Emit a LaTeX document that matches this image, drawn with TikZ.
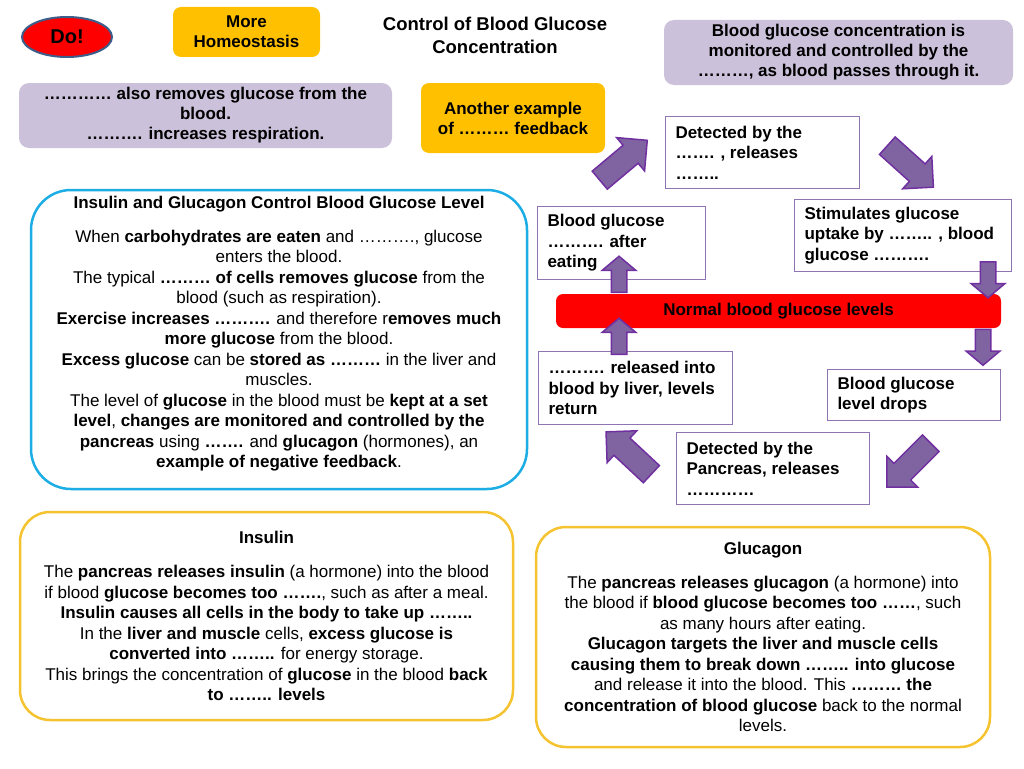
\documentclass[tikz,border=0pt]{standalone}
\usepackage{fontspec}
\setmainfont{Liberation Sans}
\usetikzlibrary{shapes.geometric, shapes.arrows}

\definecolor{lilac}{HTML}{CCC1DA}
\definecolor{tabgold}{HTML}{FFC000}
\definecolor{stepline}{HTML}{8E74B2}
\definecolor{arrowfill}{HTML}{8064A2}
\definecolor{arrowline}{HTML}{7030A0}
\definecolor{infoblue}{HTML}{1CADE4}
\definecolor{infogold}{HTML}{F5C330}
\definecolor{dorim}{HTML}{3C5E8A}

\tikzset{
  boldtext/.style={font=\bfseries\fontsize{17}{20}\selectfont},
  lilacbox/.style={boldtext, fill=lilac, rounded corners=10pt, align=center},
  goldtab/.style={boldtext, fill=tabgold, rounded corners=8pt, align=center},
  stepbox/.style={font=\bfseries\fontsize{17}{20.5}\selectfont, draw=stepline, line width=1pt, fill=white, align=flush left, anchor=north west, inner xsep=10pt},
  infobox/.style={font=\fontsize{17}{20.5}\selectfont, fill=white, line width=2.5pt, align=center},
  blockarrow/.style={single arrow, fill=arrowfill, draw=arrowline, line width=1.5pt},
  shortarrow/.style={blockarrow, inner sep=7pt, single arrow head extend=9pt, single arrow tip angle=100, minimum height=36pt},
  bigarrow/.style={blockarrow, inner sep=11pt, single arrow head extend=10pt, single arrow tip angle=90, minimum height=62pt}
}

\begin{document}
\begin{tikzpicture}[x=1pt, y=-1pt]
\useasboundingbox (0,0) rectangle (1024,768);

\node[ellipse, fill=red, draw=dorim, line width=2pt, minimum width=90pt, minimum height=40pt, font=\bfseries\fontsize{20}{24}\selectfont] (do) at (67,37) {Do!};
\node[goldtab, minimum width=147pt, minimum height=50pt] (more homeostasis) at (246.5,32) {More\\Homeostasis};
\node[font=\bfseries\fontsize{18.5}{23}\selectfont, align=center] (title) at (495,35) {Control of Blood Glucose\\Concentration};

\node[lilacbox, minimum width=349pt, minimum height=65pt] (monitored) at (838.5,52.5) {Blood glucose concentration is\\monitored and controlled by the\\………, as blood passes through it.};
\node[lilacbox, minimum width=373pt, minimum height=65pt] (also removes) at (205.5,115.5) {………… also removes glucose from the\\blood.\\………. increases respiration.};
\node[goldtab, minimum width=184pt, minimum height=70pt] (another example) at (513,118) {Another example\\of ……… feedback};

% feedback loop
\node[stepbox, text width=174pt, minimum height=72pt] (detected top) at (665,116) {Detected by the\\……. , releases\\……..};
\node[stepbox, text width=197pt, minimum height=72pt] (stimulates) at (794,199) {Stimulates glucose\\uptake by …….. , blood\\glucose ……….};
\node[stepbox, text width=148pt, minimum height=73pt] (after eating) at (537,206) {Blood glucose\\………. after\\eating};
\node[stepbox, text width=174pt, minimum height=73pt] (released) at (538,351) {………. released into\\blood by liver, levels\\return};
\node[stepbox, text width=153pt, minimum height=51pt] (drops) at (827,369) {Blood glucose\\level drops};
\node[stepbox, text width=173pt, minimum height=72pt] (detected low) at (676,432) {Detected by the\\Pancreas, releases\\…………};

\node[boldtext, fill=red, rounded corners=7pt, minimum width=445pt, minimum height=34pt] (normal) at (778.5,311) {Normal blood glucose levels};

\node[shortarrow, rotate=90] (rise arrow) at (619,277.5) {};
\node[shortarrow, rotate=90] (return arrow) at (619,339.5) {};
\node[shortarrow, rotate=-90] (uptake arrow) at (988,276.5) {};
\node[shortarrow, rotate=-90] (drop arrow) at (983,344) {};
\node[bigarrow, rotate=40] (detect arrow) at (619,164) {};
\node[bigarrow, rotate=-42] (insulin arrow) at (906,162.5) {};
\node[bigarrow, rotate=225] (pancreas arrow) at (913,461) {};
\node[bigarrow, rotate=137] (glucagon arrow) at (633,457) {};

% text panels
\node[infobox, draw=infoblue, rounded corners=40pt, minimum width=496pt, minimum height=299pt] (control) at (279,339.5) {{\bfseries Insulin and Glucagon Control Blood Glucose Level}\\[13.5pt]
When \textbf{carbohydrates are eaten} and ………., glucose\\
enters the blood.\\
The typical \textbf{……… of cells removes glucose} from the\\
blood (such as respiration).\\
\textbf{Exercise increases ……….} and therefore r\textbf{emoves much}\\
\textbf{more glucose} from the blood.\\
\textbf{Excess glucose} can be \textbf{stored as ………} in the liver and\\
muscles.\\
The level of \textbf{glucose} in the blood must be \textbf{kept at a set}\\
\textbf{level}, \textbf{changes are monitored and controlled by the}\\
\textbf{pancreas} using \textbf{…….} and \textbf{glucagon} (hormones), an\\
\textbf{example of negative feedback}.\rule[-15pt]{0pt}{15pt}};

\node[infobox, draw=infogold, rounded corners=30pt, minimum width=493pt, minimum height=208pt] (insulin) at (266.5,616) {{\bfseries Insulin}\\[13.5pt]
The \textbf{pancreas releases insulin} (a hormone) into the blood\\
if blood \textbf{glucose becomes too …….}, such as after a meal.\\
\textbf{Insulin causes all cells in the body to take up ……..}\\
In the \textbf{liver and muscle} cells, \textbf{excess glucose is}\\
\textbf{converted into ……..} for energy storage.\\
This brings the concentration of \textbf{glucose} in the blood \textbf{back}\\
\textbf{to …….. levels}};

\node[infobox, draw=infogold, rounded corners=30pt, minimum width=454pt, minimum height=220pt] (glucagon) at (763,637) {{\bfseries Glucagon}\\[13.5pt]
The \textbf{pancreas releases glucagon} (a hormone) into\\
the blood if \textbf{blood glucose becomes too ……}, such\\
as many hours after eating.\\
\textbf{Glucagon targets the liver and muscle cells}\\
\textbf{causing them to break down …….. into glucose}\\
and release it into the blood. This \textbf{……… the}\\
\textbf{concentration of blood glucose} back to the normal\\
levels.};
\end{tikzpicture}
\end{document}
